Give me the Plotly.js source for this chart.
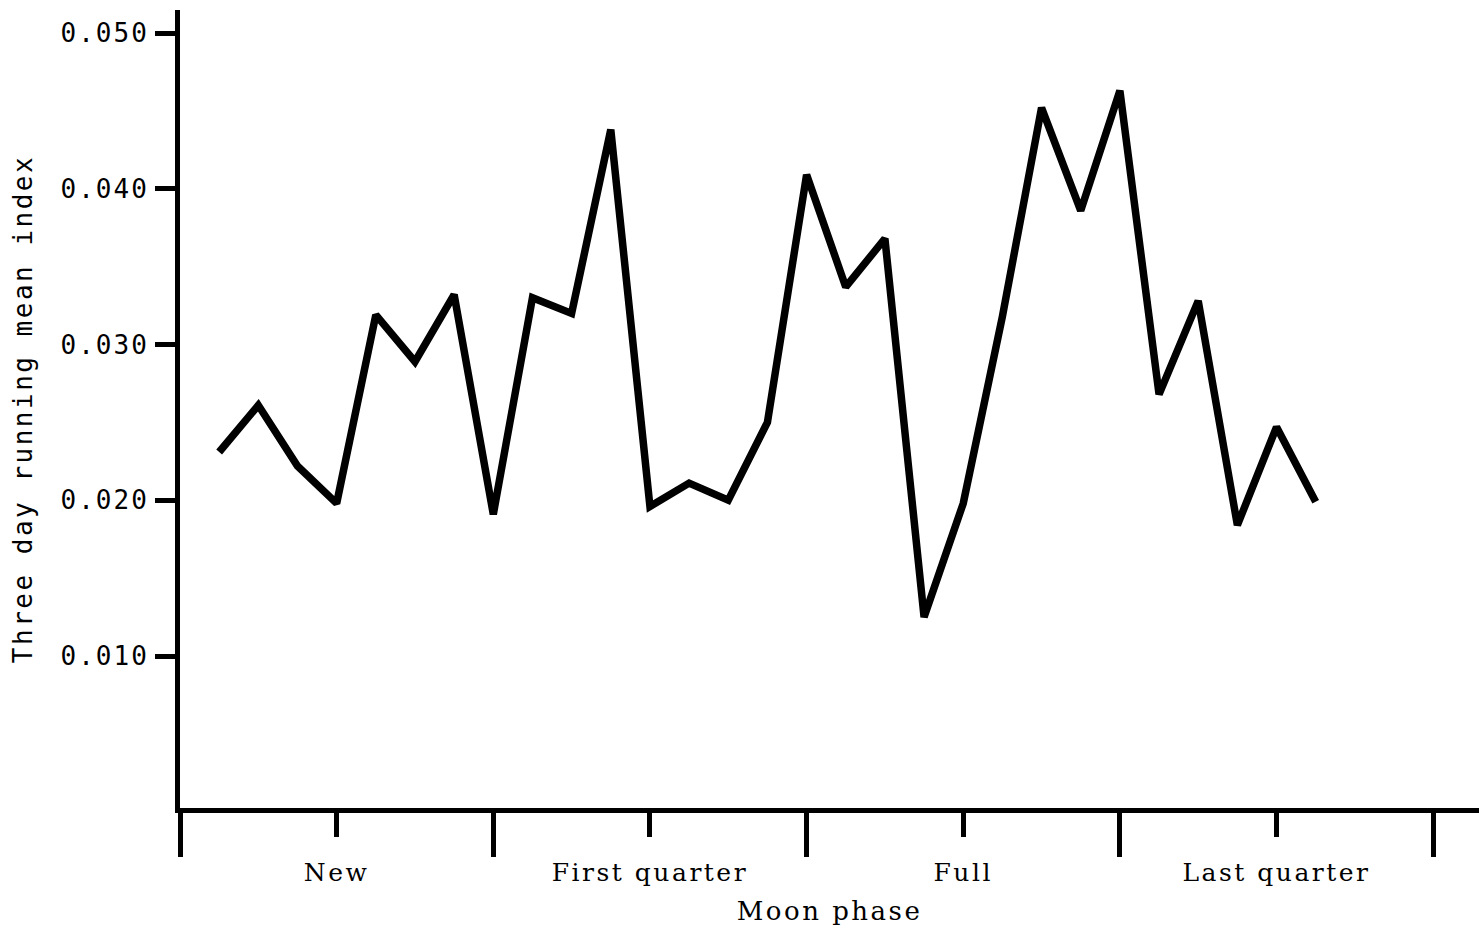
<!DOCTYPE html>
<html>
<head>
<meta charset="utf-8">
<script src="https://cdn.plot.ly/plotly-3.0.1.min.js"></script>
<style>
  html, body { margin: 0; padding: 0; background: #ffffff; }
  #chart { width: 1479px; height: 931px; }
  .ytick text { letter-spacing: 2px; }
  .ytitle { letter-spacing: 2.5px; }
  .xtick text { letter-spacing: 2.5px; }
  .xtitle { letter-spacing: 2.5px; }
</style>
</head>
<body>
<div id="chart"></div>
<script>
// Day of lunar cycle (x position on the phase axis)
const phaseDay = [1, 2, 3, 4, 5, 6, 7, 8, 9, 10, 11, 12, 13, 14, 15,
                  16, 17, 18, 19, 20, 21, 22, 23, 24, 25, 26, 27, 28, 29];
// Three day running mean index
const meanIndex = [0.0231, 0.0261, 0.0222, 0.0198, 0.0319, 0.0289, 0.0332, 0.0191,
                   0.0330, 0.0320, 0.0438, 0.0196, 0.0211, 0.0200, 0.0250, 0.0409,
                   0.0337, 0.0368, 0.0125, 0.0198, 0.0318, 0.0452, 0.0386, 0.0463,
                   0.0268, 0.0328, 0.0184, 0.0247, 0.0199];
// Moon phase labels and tick positions
const phaseTickVals = [4, 12, 20, 28];
const phaseTickText = ['New', 'First quarter', 'Full', 'Last quarter'];
const phaseBoundaryVals = [0, 8, 16, 24, 32];
// Y tick labels
const yTickVals = [0.010, 0.020, 0.030, 0.040, 0.050];
const yTickText = ['0.010', '0.020', '0.030', '0.040', '0.050'];

const trace = {
  x: phaseDay,
  y: meanIndex,
  type: 'scatter',
  mode: 'lines',
  line: { color: '#000000', width: 7.5 },
  hoverinfo: 'x+y'
};

const monoFont = 'DejaVu Sans Mono, Liberation Mono, monospace';
const serifFont = 'DejaVu Serif, Liberation Serif, serif';

const layout = {
  width: 1479,
  height: 931,
  margin: { l: 180, r: 0, t: 10, b: 123, pad: 0 },
  paper_bgcolor: '#ffffff',
  plot_bgcolor: '#ffffff',
  showlegend: false,
  xaxis: {
    range: [0, 33.17],
    showgrid: false,
    zeroline: false,
    showline: true,
    linecolor: '#000000',
    linewidth: 5,
    tickmode: 'array',
    tickvals: phaseTickVals,
    ticktext: phaseTickText,
    ticks: 'outside',
    ticklen: 24,
    tickwidth: 5,
    tickcolor: '#000000',
    ticklabelstandoff: 14,
    tickfont: { family: serifFont, size: 25, color: '#000000' },
    minor: {
      tickmode: 'array',
      tickvals: phaseBoundaryVals,
      ticks: 'outside',
      ticklen: 44,
      tickwidth: 5,
      tickcolor: '#000000',
      showgrid: false
    },
    title: {
      text: 'Moon phase',
      font: { family: serifFont, size: 26, color: '#000000' },
      standoff: 17
    },
    automargin: false,
    fixedrange: true
  },
  yaxis: {
    range: [0.00024, 0.05148],
    showgrid: false,
    zeroline: false,
    showline: true,
    linecolor: '#000000',
    linewidth: 5,
    tickmode: 'array',
    tickvals: yTickVals,
    ticktext: yTickText,
    ticks: 'outside',
    ticklen: 20,
    tickwidth: 5,
    tickcolor: '#000000',
    ticklabelstandoff: 1,
    tickfont: { family: monoFont, size: 26, color: '#000000' },
    title: {
      text: 'Three day running mean index',
      font: { family: monoFont, size: 26, color: '#000000' },
      standoff: 22
    },
    automargin: false,
    fixedrange: true
  }
};

Plotly.newPlot('chart', [trace], layout, { displayModeBar: false, staticPlot: true });
</script>
</body>
</html>
